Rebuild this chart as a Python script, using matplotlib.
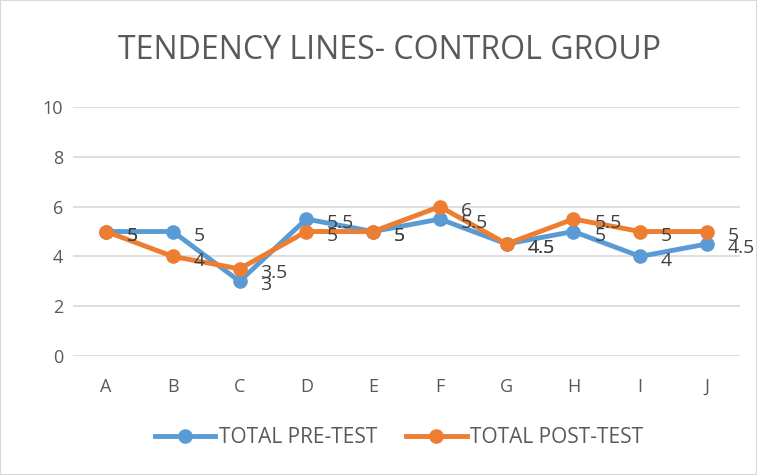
import matplotlib.pyplot as plt
from matplotlib.patches import Rectangle

categories = ["A", "B", "C", "D", "E", "F", "G", "H", "I", "J"]
pre_test = [5, 5, 3, 5.5, 5, 5.5, 4.5, 5, 4, 4.5]
post_test = [5, 4, 3.5, 5, 5, 6, 4.5, 5.5, 5, 5]

plt.rcParams['font.family'] = ['Open Sans', 'DejaVu Sans']

fig = plt.figure(figsize=(7.57, 4.75), dpi=100)
ax = fig.add_axes([0.096, 0.2505, 0.882, 0.5242])

x = list(range(len(categories)))
blue = '#5B9BD5'
orange = '#ED7D31'
ax.plot(x, pre_test, color=blue, lw=3.5, marker='o', ms=9.5, label='TOTAL PRE-TEST', zorder=3)
ax.plot(x, post_test, color=orange, lw=3.5, marker='o', ms=9.5, label='TOTAL POST-TEST', zorder=4)

def fmt(v):
    return f'{v:g}'

for xi, v in zip(x, pre_test):
    ax.annotate(fmt(v), (xi, v), xytext=(15, -3), textcoords='offset points',
                ha='left', va='center', fontsize=14, color='#404040', zorder=5)
for xi, v in zip(x, post_test):
    ax.annotate(fmt(v), (xi, v), xytext=(15, -3), textcoords='offset points',
                ha='left', va='center', fontsize=14, color='#404040', zorder=5)

ax.set_xlim(-0.5, len(categories) - 0.5)
ax.set_ylim(0, 10)
ax.set_yticks([0, 2, 4, 6, 8, 10])
ax.set_xticks(x)
ax.set_xticklabels(categories)
ax.grid(axis='y', color='#D9D9D9', lw=1.2)
ax.set_axisbelow(True)
for s in ax.spines.values():
    s.set_visible(False)
ax.tick_params(length=0, labelsize=13, colors='#595959', pad=16)
ax.tick_params(axis='y', pad=7)

fig.text(0.515, 0.893, 'TENDENCY LINES- CONTROL GROUP', ha='center', va='center',
         fontsize=23, color='#595959')

leg = fig.legend(loc='center', bbox_to_anchor=(0.527, 0.078), ncol=2, frameon=False,
                 fontsize=15, handlelength=2.9, columnspacing=1.4, handletextpad=0.15,
                 labelcolor='#595959')

fig.patches.append(Rectangle((0, 0), 1, 1, transform=fig.transFigure, fill=False,
                             edgecolor='#D9D9D9', lw=1.5))

fig.savefig('out.png', dpi=100)
